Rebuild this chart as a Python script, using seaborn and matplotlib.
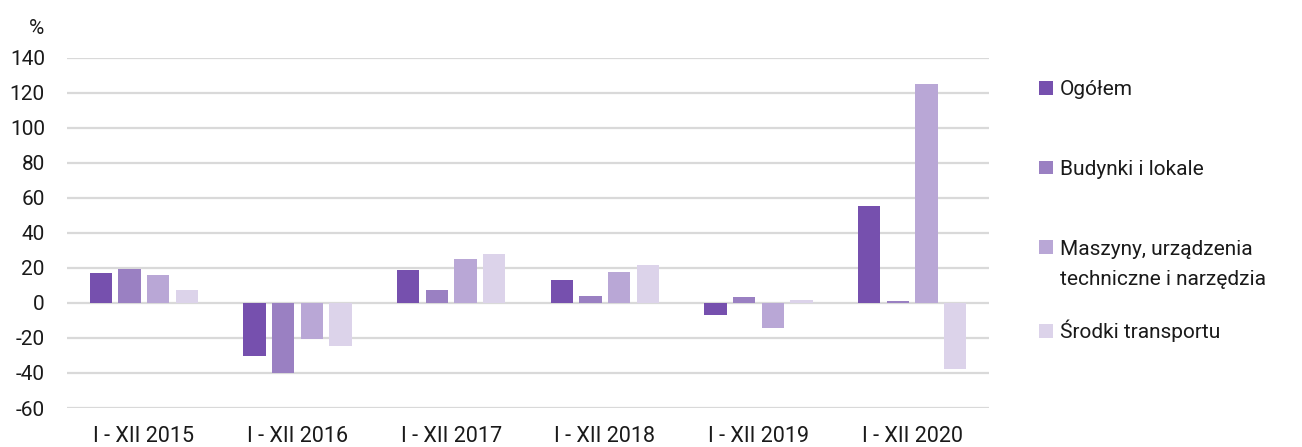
import matplotlib
matplotlib.use("Agg")
import matplotlib.pyplot as plt
import seaborn as sns
import pandas as pd
from matplotlib.patches import Patch

categories = ["I - XII 2015", "I - XII 2016", "I - XII 2017", "I - XII 2018", "I - XII 2019", "I - XII 2020"]
series_names = ["Ogółem", "Budynki i lokale", "Maszyny, urządzenia\ntechniczne i narzędzia", "Środki transportu"]
ogolem = [16.8, -30.1, 18.9, 12.8, -6.9, 55.6]
budynki = [19.4, -40.0, 7.4, 4.2, 3.3, 1.0]
maszyny = [16.2, -20.6, 25.1, 17.4, -14.3, 125.0]
srodki = [7.4, -24.6, 28.0, 21.5, 1.9, -37.7]
yticks = [-60, -40, -20, 0, 20, 40, 60, 80, 100, 120, 140]
colors = ["#7650AE", "#9A80C2", "#B9A7D6", "#DCD3EA"]

rows = []
for name, vals in zip(series_names, [ogolem, budynki, maszyny, srodki]):
    for c, v in zip(categories, vals):
        rows.append({"cat": c, "series": name, "value": v})
df = pd.DataFrame(rows)

sns.set_theme(style="white")
plt.rcParams["font.family"] = ["Roboto", "DejaVu Sans"]

fig = plt.figure(figsize=(13.02, 4.47), dpi=100)
ax = fig.add_axes([0.0515, 0.0872, 0.7081, 0.7838])

sns.barplot(data=df, x="cat", y="value", hue="series", order=categories,
            hue_order=series_names, palette=colors, width=0.745, gap=0.22,
            saturation=1, legend=False, ax=ax, zorder=3, linewidth=0, edgecolor="none")

ax.set_ylim(-60, 140)
ax.set_yticks(yticks)
ax.set_yticklabels([str(t) for t in yticks])
ax.set_xlim(-0.5, len(categories) - 0.5)
ax.grid(axis="y", color="#D9D9D9", linewidth=1.6, zorder=0)
ax.set_axisbelow(True)
for s in ax.spines.values():
    s.set_visible(False)
ax.tick_params(axis="y", length=0, pad=16, labelsize=15, labelcolor="#1a1a1a")
ax.tick_params(axis="x", length=0, pad=13, labelsize=15.5, labelcolor="#1a1a1a")
ax.set_xlabel("")
ax.set_ylabel("")
fig.text(44 / 1302, 1 - 28 / 447, "%", fontsize=15, ha="right", va="center", color="#1a1a1a")

# legend: first line of each label on an even pitch, continuation line placed below
first_lines = [n.split("\n")[0] for n in series_names]
handles = [Patch(facecolor=c, edgecolor="none") for c in colors]
leg = fig.legend(handles, first_lines, loc="upper left", bbox_to_anchor=(1039 / 1302, 1 - 80 / 447),
                 frameon=False, fontsize=15, handlelength=0.65, handleheight=0.65,
                 handletextpad=0.35, labelspacing=2.92, borderaxespad=0, borderpad=0)
for t in leg.get_texts():
    t.set_color("#1a1a1a")

fig.canvas.draw()
inv = fig.transFigure.inverted()
for t, full in zip(leg.get_texts(), series_names):
    extra = full.split("\n")[1:]
    if extra:
        bb = t.get_window_extent()
        x0, y0 = inv.transform((bb.x0, bb.y0))
        fig.text(x0, y0 - 30 / 447, "\n".join(extra), fontsize=15, ha="left",
                 va="bottom", color="#1a1a1a")

fig.savefig("out.png", dpi=100)
